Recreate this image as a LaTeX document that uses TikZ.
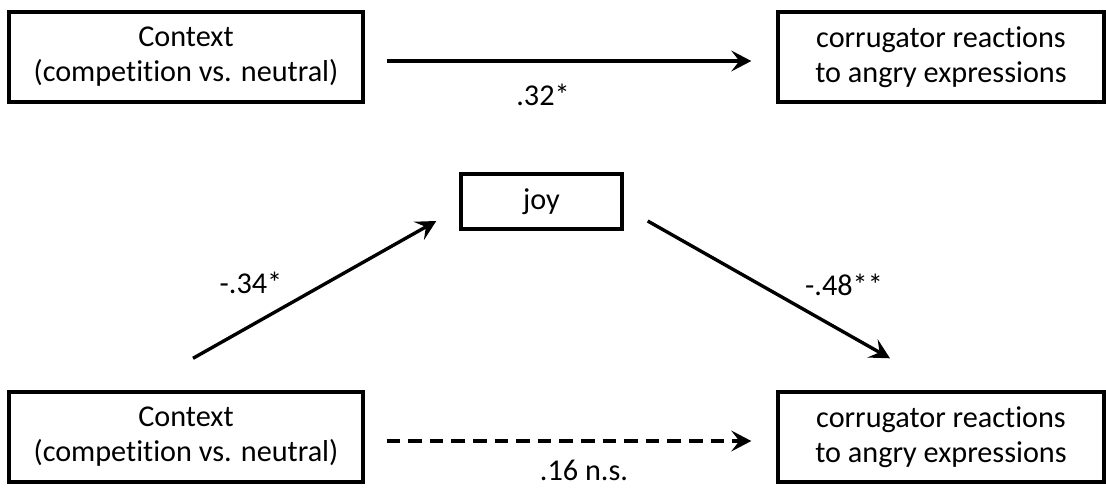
\documentclass[tikz,border=0pt]{standalone}
\usepackage{fontspec}
\setmainfont{Carlito}[Ligatures=NoCommon]
\usepackage{tikz}
\usetikzlibrary{arrows.meta}

\begin{document}
\begin{tikzpicture}[
        box/.style={draw, line width=2.4pt, minimum height=2.25cm, inner sep=0pt, align=center, font=\fontsize{21.5}{25}\selectfont},
        lbl/.style={inner sep=0pt, font=\fontsize{21.5}{25}\selectfont},
        link/.style={line width=2.4pt, -{Stealth[length=0.5cm, width=0.52cm, inset=0.2cm]}}
    ]
        \def\wctx{8.85cm}
        \def\wcor{8.15cm}

        \useasboundingbox (0,0) rectangle (27.65,12.2);

        % total effect
        \node[box, minimum width=\wctx] (ctxA) at (4.65,10.775) {Context\\(competition vs. neutral)};
        \node[box, minimum width=\wcor] (corA) at (23.525,10.775) {corrugator reactions\\to angry expressions};

        % mediated effect
        \node[box, minimum width=4.025cm, minimum height=1.375cm] (joy) at (13.5375,7.1625) {joy};
        \node[box, minimum width=\wctx] (ctxB) at (4.65,1.275) {Context\\(competition vs. neutral)};
        \node[box, minimum width=\wcor] (corB) at (23.525,1.275) {corrugator reactions\\to angry expressions};

        \draw[link] ([xshift=0.55cm, yshift=-0.1cm]ctxA.east) -- ([xshift=-0.625cm, yshift=-0.1cm]corA.west);
        \draw[link] ([shift={(0.175,0.8)}]ctxB.north) -- ([shift={(-0.575,-0.4875)}]joy.west);
        \draw[link] ([shift={(0.6,-0.4875)}]joy.east) -- ([shift={(-1.275,0.8)}]corB.north);
        \draw[link, dash pattern=on 0.34cm off 0.2cm] ([xshift=0.55cm, yshift=-0.1cm]ctxB.east) -- ([xshift=-0.625cm, yshift=-0.1cm]corB.west);

        \node[lbl] (cA) at (13.575,9.825) {.32*};
        \node[lbl] (cB) at (6.275,5.125) {-.34*};
        \node[lbl] (cC) at (21.1,5.075) {-.48**};
        \node[lbl] (cD) at (14.6,0.45) {.16 n.s.};
    \end{tikzpicture}
\end{document}
